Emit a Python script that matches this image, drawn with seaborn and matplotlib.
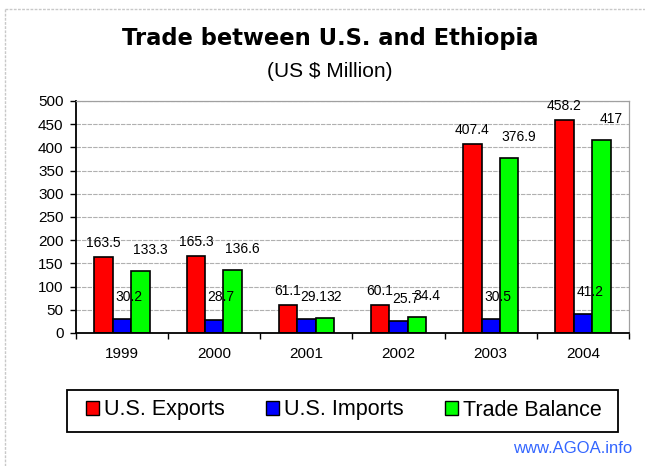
import matplotlib
matplotlib.use("Agg")
import matplotlib.pyplot as plt
from matplotlib.lines import Line2D
from matplotlib.patches import Rectangle
from matplotlib.ticker import FixedLocator
import pandas as pd
import seaborn as sns

years = ["1999", "2000", "2001", "2002", "2003", "2004"]
exports = [163.5, 165.3, 61.1, 60.1, 407.4, 458.2]
imports = [30.2, 28.7, 29.1, 25.7, 30.5, 41.2]
balance = [133.3, 136.6, 32, 34.4, 376.9, 417]
series = ["U.S. Exports", "U.S. Imports", "Trade Balance"]
colors = ["#ff0000", "#0000ff", "#00ff00"]

rows = []
for s, vals in zip(series, [exports, imports, balance]):
    for y, v in zip(years, vals):
        rows.append({"Year": y, "Value": v, "Series": s})
df = pd.DataFrame(rows)

sns.set_style("white")
plt.rcParams["font.family"] = ["Liberation Sans", "DejaVu Sans"]
plt.rcParams["text.color"] = "black"
plt.rcParams["xtick.color"] = "black"
plt.rcParams["ytick.color"] = "black"

W, H = 645, 466
fig = plt.figure(figsize=(W / 100, H / 100), dpi=100)
ax = fig.add_axes([76 / W, 1 - 333 / H, 553 / W, 232 / H])

sns.barplot(data=df, x="Year", y="Value", hue="Series", palette=colors,
            width=0.6, edgecolor="black", linewidth=1.2, saturation=1,
            ax=ax, legend=False)

# data labels: Excel puts them a bit off-centre, offsets in points per series
offsets = [(0, 5), (5, 11), (7, 10)]
for cont, (dx, dy) in zip(ax.containers, offsets):
    anns = ax.bar_label(cont, labels=[f"{v:g}" for v in cont.datavalues],
                        fontsize=10, color="black")
    for a in anns:
        a.xyann = (dx, dy)

ax.set_ylim(0, 500)
ax.set_xlim(-0.5, 5.5)
ax.set_yticks(range(0, 501, 50))
ax.yaxis.grid(True, color="#b0b0b0", linestyle=(0, (4, 1)), linewidth=0.8)
ax.set_axisbelow(True)
ax.set_xlabel("")
ax.set_ylabel("")
ax.tick_params(axis="y", direction="out", length=4, width=1, labelsize=11,
               left=True, color="black", labelcolor="black", pad=5)
ax.tick_params(axis="x", which="major", length=0, labelsize=11, pad=10,
               labelcolor="black")
ax.xaxis.set_minor_locator(FixedLocator([i - 0.5 for i in range(7)]))
ax.tick_params(axis="x", which="minor", direction="out", length=4, width=1,
               bottom=True, color="black")
for side in ["left", "bottom"]:
    ax.spines[side].set_color("black")
    ax.spines[side].set_linewidth(1.3)
for side in ["top", "right"]:
    ax.spines[side].set_color("#a0a0a0")
    ax.spines[side].set_linewidth(0.9)

handles = [plt.Rectangle((0, 0), 1, 1, facecolor=c, edgecolor="black", linewidth=1)
           for c in colors]
leg = fig.legend(handles, series, loc="center", bbox_to_anchor=(344 / W, 1 - 410 / H),
                 ncol=3, frameon=False, fontsize=15.5,
                 handlelength=0.6, handleheight=0.6, handletextpad=0.25,
                 columnspacing=1.9, borderpad=0.2)
for t in leg.get_texts():
    t.set_color("black")
fig.add_artist(Rectangle((67 / W, 1 - 432 / H), 551 / W, 42 / H,
                         transform=fig.transFigure, fill=False,
                         edgecolor="black", linewidth=1.3))

fig.text(330 / W, 1 - 45 / H, "Trade between U.S. and Ethiopia", ha="center",
         va="baseline", fontsize=16.3, fontweight="bold",
         family=["DejaVu Sans"], color="black")
fig.text(330 / W, 1 - 77 / H, "(US \\$ Million)", ha="center", va="baseline",
         fontsize=15, color="black")
fig.text(632 / W, 1 - 453 / H, "www.AGOA.info", ha="right", va="baseline",
         fontsize=12, color="#3366ff")

# light dashed frame of the chart area
fig.add_artist(Line2D([5 / W, 5 / W], [0, 1 - 9 / H], color="#c8c8c8",
                      linestyle=(0, (2, 1)), linewidth=1))
fig.add_artist(Line2D([5 / W, 1], [1 - 9 / H, 1 - 9 / H], color="#c8c8c8",
                      linestyle=(0, (2, 1)), linewidth=1))

fig.savefig("out.png", dpi=100, facecolor="white")
